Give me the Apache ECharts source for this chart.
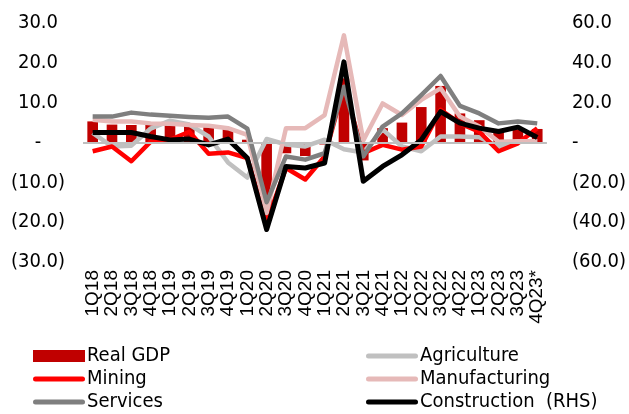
<!DOCTYPE html>
<html><head><meta charset="utf-8">
<script src="https://cdn.jsdelivr.net/npm/echarts@6/dist/echarts.min.js"></script>
<style>html,body{margin:0;padding:0;background:#fff}#c{width:629px;height:414px}</style>
</head><body><div id="c"></div>
<script>
var categories = ['1Q18','2Q18','3Q18','4Q18','1Q19','2Q19','3Q19','4Q19','1Q20','2Q20','3Q20','4Q20','1Q21','2Q21','3Q21','4Q21','1Q22','2Q22','3Q22','4Q22','1Q23','2Q23','3Q23','4Q23*'];
var realGDP = [5.3, 4.5, 4.4, 4.7, 4.5, 4.8, 4.4, 3.6, 0.7, -17.1, -2.7, -3.4, -0.5, 16.1, -4.5, 3.6, 5.0, 8.9, 14.2, 7.3, 5.6, 2.9, 3.3, 3.4];
var agriculture = [2.4, -1.0, -0.8, 3.5, 5.5, 4.5, 1.5, -5.0, -8.8, 0.9, -0.5, -1.0, 0.7, -1.7, -2.5, 3.3, -1.0, -2.2, 1.5, 1.5, 1.3, -1.0, 0.3, 0.3];
var mining = [-2.2, -1.0, -4.7, 0.2, 0.7, 2.7, -2.8, -2.5, -3.9, -20.0, -6.4, -9.3, -3.5, 14.0, -2.7, -0.6, -1.8, -1.0, 8.2, 4.8, 2.7, -2.2, -0.2, 3.6];
var manufacturing = [5.7, 5.3, 5.3, 4.8, 4.7, 4.4, 4.2, 3.6, 1.9, -17.7, 3.6, 3.6, 6.9, 26.9, 0.5, 9.8, 6.9, 10.7, 13.6, 6.5, 4.0, 0.2, 0.3, 0.3];
var services = [6.5, 6.5, 7.5, 7.0, 6.7, 6.4, 6.2, 6.5, 3.5, -15.0, -3.5, -4.3, -2.7, 14.0, -3.5, 4.0, 7.3, 11.9, 16.7, 9.2, 7.3, 4.8, 5.3, 4.8];
var construction = [5.0, 5.0, 5.0, 3.0, 1.3, 1.7, -1.2, 1.7, -7.8, -43.7, -12.0, -12.8, -10.3, 40.5, -19.5, -12.0, -6.2, 1.3, 15.5, 9.7, 7.2, 5.5, 7.7, 2.5];
var leftTicks = {min: -30, max: 30, interval: 10};
var rightTicks = {min: -60, max: 60, interval: 20};

function fmt(v){ if (v === 0) return '-'; return v < 0 ? '(' + Math.abs(v).toFixed(1) + ')' : v.toFixed(1); }
var FONT = 'DejaVu Sans Condensed, DejaVu Sans';
var lineIcon = 'path://M2.5,0L49.5,0Q52,0 52,2.5Q52,5 49.5,5L2.5,5Q0,5 0,2.5Q0,0 2.5,0Z';
function lineSeries(name, data, color, w, axis) {
  return {name: name, type: 'line', data: data, yAxisIndex: axis || 0, symbol: 'none',
    lineStyle: {color: color, width: w, join: 'round'}, itemStyle: {color: color}, silent: true, animation: false};
}
var legendText = {fontFamily: FONT, fontSize: 20, lineHeight: 20, color: '#000', padding: [0,0,0,-3]};
var chart = echarts.init(document.getElementById('c'), null, {renderer: 'canvas'});
chart.setOption({
  animation: false,
  grid: {left: 83, right: 82, top: 23, bottom: 152},
  xAxis: {type: 'category', data: categories, boundaryGap: true,
    axisLine: {show: false}, axisTick: {show: false},
    axisLabel: {rotate: 90, interval: 0, fontFamily: 'Liberation Sans', fontSize: 19, color: '#000', margin: 8}},
  yAxis: [
    {type: 'value', min: leftTicks.min, max: leftTicks.max, interval: leftTicks.interval,
      splitLine: {show: false}, axisLine: {show: false}, axisTick: {show: false},
      axisLabel: {formatter: fmt, fontFamily: FONT, fontSize: 20, color: '#000', align: 'center', margin: 45}},
    {type: 'value', min: rightTicks.min, max: rightTicks.max, interval: rightTicks.interval, position: 'right',
      splitLine: {show: false}, axisLine: {show: false}, axisTick: {show: false},
      axisLabel: {formatter: fmt, fontFamily: FONT, fontSize: 20, color: '#000', align: 'left', margin: 25}}
  ],
  legend: [
    {orient: 'vertical', left: 33, top: 346, padding: 0, itemGap: 3, itemWidth: 52, itemHeight: 12,
      textStyle: legendText,
      data: [{name: 'Real GDP', icon: 'rect'}, {name: 'Mining', icon: lineIcon}, {name: 'Services', icon: lineIcon}]},
    {orient: 'vertical', left: 366, top: 346, padding: 0, itemGap: 3, itemWidth: 52, itemHeight: 12,
      textStyle: legendText,
      data: [{name: 'Agriculture', icon: lineIcon}, {name: 'Manufacturing', icon: lineIcon}, {name: 'Construction  (RHS)', icon: lineIcon}]}
  ],
  series: [
    {name: 'Real GDP', type: 'bar', data: realGDP, barWidth: '55%', itemStyle: {color: '#C00000'}, silent: true,
      markLine: {silent: true, symbol: 'none', label: {show: false}, lineStyle: {color: '#BFBFBF', width: 2, type: 'solid'}, data: [{yAxis: 0}]}},
    lineSeries('Agriculture', agriculture, '#C0C0C0', 4.5),
    lineSeries('Mining', mining, '#FF0000', 4.5),
    lineSeries('Manufacturing', manufacturing, '#E6B9B8', 4.5),
    lineSeries('Services', services, '#7F7F7F', 4.5),
    lineSeries('Construction  (RHS)', construction, '#000000', 5, 1)
  ]
});
</script></body></html>
